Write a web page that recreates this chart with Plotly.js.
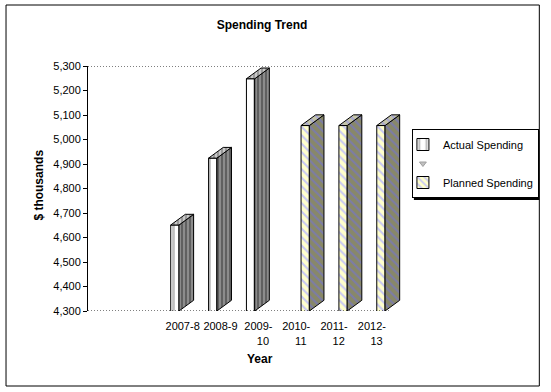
<!DOCTYPE html>
<html>
<head>
<meta charset="utf-8">
<script src="https://cdn.plot.ly/plotly-3.0.1.min.js"></script>
<style>html,body{margin:0;padding:0;background:#fff;}#chart{width:551px;height:392px;}</style>
</head>
<body>
<div id="chart"></div>
<script>
// ---- data ----
const categories = ['2007-8', '2008-9', '2009-10', '2010-11', '2011-12', '2012-13'];
const tickLabels = ['2007-8', '2008-9', '2009-<br>\u00a0\u00a0\u00a010', '2010-<br>\u00a0\u00a0\u00a011', '2011-<br>\u00a0\u00a0\u00a012', '2012-<br>\u00a0\u00a0\u00a013'];
const actualSpending = [4651, 4924, 5248, null, null, null];
const blankSeries = [null, null, null, null, null, null];
const plannedSpending = [null, null, null, 5057, 5057, 5057];
const yTicks = [4300, 4400, 4500, 4600, 4700, 4800, 4900, 5000, 5100, 5200, 5300];

// ---- geometry (category axis with two empty leading slots) ----
const leadingEmpty = 2;
const xs = categories.map((c, i) => i + 1 + leadingEmpty);
const barW = 0.219;
const depthX = 0.386;
const depthY = 43.7;
const yMin = 4300, yMax = 5300;
const W = 551, H = 392, mL = 88, mR = 141, mT = 66, mB = 81;
const pw = W - mL - mR, ph = H - mT - mB;
const px2x = p => (p - mL) / pw;
const py2y = p => (H - mB - p) / ph;
const font = 'Liberation Sans, Arial, sans-serif';

function faces(values, offset) {
  const side = {x: [], y: []}, top = {x: [], y: []};
  values.forEach((v, i) => {
    if (v == null) return;
    const l = xs[i] + offset, r = l + barW;
    side.x.push(r, r + depthX, r + depthX, r, r, null);
    side.y.push(yMin, yMin + depthY, v + depthY, v, yMin, null);
    top.x.push(l, l + depthX, r + depthX, r, l, null);
    top.y.push(v, v + depthY, v + depthY, v, v, null);
  });
  return {side, top};
}

const actOff = -0.315, planOff = 0.128;
const fa = faces(actualSpending, actOff);
const fp = faces(plannedSpending, planOff);

const traces = [
  {type: 'bar', name: 'Actual Spending', x: xs, y: actualSpending, offset: actOff, width: barW, legendrank: 1,
   marker: {color: '#ffffff', line: {color: '#000', width: 1},
            pattern: {shape: '|', bgcolor: '#ffffff', fgcolor: '#c0c0c0', size: 9, solidity: 0.3}},
   hoverinfo: 'x+y'},
  {type: 'bar', name: 'Planned Spending', x: xs, y: plannedSpending, offset: planOff, width: barW, legendrank: 3,
   marker: {color: '#ffffcc', line: {color: '#000', width: 1},
            pattern: {shape: '\\', bgcolor: '#ffffcc', fgcolor: '#c8c8f4', size: 6, solidity: 0.35}},
   hoverinfo: 'x+y'},
  {type: 'scatter', mode: 'lines', x: fa.side.x, y: fa.side.y, fill: 'toself', fillcolor: '#8c8c8c',
   fillpattern: {shape: '|', bgcolor: '#8c8c8c', fgcolor: '#606060', size: 4, solidity: 0.5},
   line: {color: '#000', width: 1}, showlegend: false, hoverinfo: 'skip'},
  {type: 'scatter', mode: 'lines', x: fa.top.x, y: fa.top.y, fill: 'toself', fillcolor: '#c8c8c8',
   fillpattern: {shape: '|', bgcolor: '#c8c8c8', fgcolor: '#9a9a9a', size: 4, solidity: 0.5},
   line: {color: '#000', width: 1}, showlegend: false, hoverinfo: 'skip'},
  {type: 'scatter', mode: 'lines', x: fp.side.x, y: fp.side.y, fill: 'toself', fillcolor: '#888868',
   fillpattern: {shape: '\\', bgcolor: '#888868', fgcolor: '#7c7ca8', size: 6, solidity: 0.35},
   line: {color: '#000', width: 1}, showlegend: false, hoverinfo: 'skip'},
  {type: 'scatter', mode: 'lines', x: fp.top.x, y: fp.top.y, fill: 'toself', fillcolor: '#c4c4a8',
   fillpattern: {shape: '\\', bgcolor: '#c4c4a8', fgcolor: '#a8a8d0', size: 6, solidity: 0.35},
   line: {color: '#000', width: 1}, showlegend: false, hoverinfo: 'skip'},
  {type: 'scatter', mode: 'markers', name: ' ', x: xs, y: blankSeries, legendrank: 2,
   marker: {symbol: 'triangle-down', size: 6, color: '#c0c0c0', line: {color: '#a0a0a0', width: 1}},
   hoverinfo: 'skip'}
];

const layout = {
  width: W, height: H,
  margin: {l: mL, r: mR, t: mT, b: mB, pad: 0},
  paper_bgcolor: '#ffffff', plot_bgcolor: 'rgba(0,0,0,0)',
  font: {family: font, size: 11, color: '#000'},
  showlegend: true,
  title: {text: '<b>Spending Trend</b>', font: {family: font, size: 12, color: '#000'},
          x: 262 / W, xref: 'container', xanchor: 'center', y: 1 - 25 / H, yref: 'container', yanchor: 'middle'},
  xaxis: {type: 'linear', range: [0.5, 8.9], tickvals: xs, ticktext: tickLabels, showgrid: false, zeroline: false,
          showline: false, ticks: 'outside', ticklen: 5, tickcolor: 'rgba(0,0,0,0)',
          tickfont: {family: font, size: 11, color: '#000'}, fixedrange: true},
  yaxis: {range: [yMin, yMax], tickvals: yTicks, tickformat: ',d', showgrid: false, zeroline: false,
          showline: true, linecolor: '#000', linewidth: 1, ticks: 'outside', ticklen: 4, tickcolor: '#000',
          tickfont: {family: font, size: 11, color: '#000'}, fixedrange: true},
  legend: {x: 1.0, xanchor: 'left', y: py2y(129), yanchor: 'top', bgcolor: '#ffffff', bordercolor: '#000', borderwidth: 1,
           indentation: -10, itemwidth: 30,
           font: {family: font, size: 11, color: '#000'}, traceorder: 'normal', tracegroupgap: 0},
  annotations: [
    {text: '<b>$ thousands</b>', textangle: -90, xref: 'paper', yref: 'paper', x: px2x(38), y: py2y(185),
     showarrow: false, font: {family: font, size: 12, color: '#000'}, xanchor: 'center', yanchor: 'middle'},
    {text: '<b>Year</b>', xref: 'paper', yref: 'paper', x: px2x(262), y: py2y(359),
     showarrow: false, font: {family: font, size: 12, color: '#000'}, xanchor: 'center', yanchor: 'middle'}
  ],
  shapes: [
    {type: 'rect', xref: 'paper', yref: 'paper', x0: px2x(5), x1: px2x(545), y0: py2y(386), y1: py2y(5),
     line: {color: '#000', width: 1}, fillcolor: 'rgba(0,0,0,0)', layer: 'below'},
    {type: 'line', xref: 'x', yref: 'y', x0: 0.5, x1: 8.5, y0: yMax, y1: yMax, line: {color: '#000', width: 1, dash: '1px,2px'}},
    {type: 'line', xref: 'x', yref: 'y', x0: 0.5, x1: 8.5, y0: yMin, y1: yMin, line: {color: '#000', width: 1, dash: '1px,2px'}}
  ]
};

Plotly.newPlot('chart', traces, layout, {staticPlot: true}).then(gd => {
  const L = gd._fullLayout.legend;
  const lw = L._width, lh = L._height;
  // place legend so its right edge sits near the chart border and add a drop shadow
  const right = 543;
  const left = right - lw;
  const top = 129;
  const shapes = layout.shapes.concat([
    {type: 'rect', xref: 'paper', yref: 'paper', x0: px2x(left + 2), x1: px2x(right + 2), y0: py2y(top + lh + 2), y1: py2y(top + 2),
     line: {width: 0}, fillcolor: '#000', layer: 'above'}
  ]);
  return Plotly.relayout(gd, {'legend.x': px2x(left), shapes: shapes});
});
</script>
</body>
</html>
